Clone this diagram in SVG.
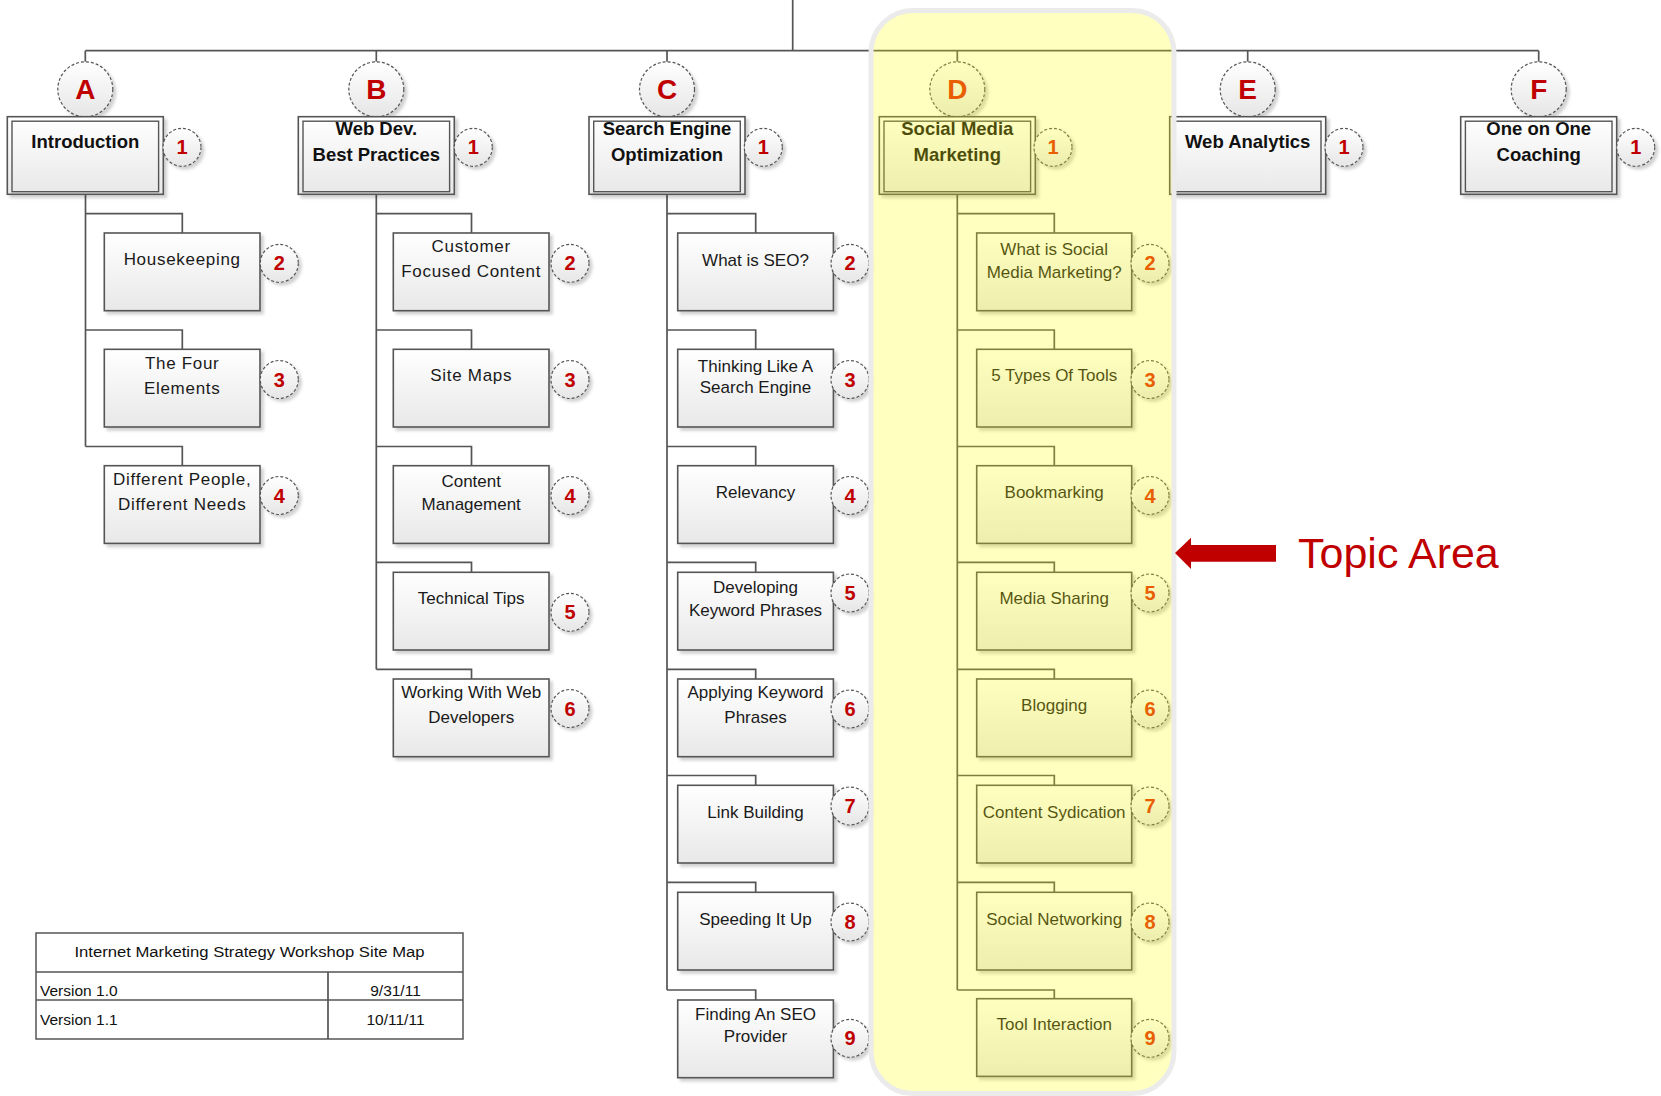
<svg xmlns="http://www.w3.org/2000/svg" width="1661" height="1096" viewBox="0 0 1661 1096">
<defs>
<linearGradient id="gb" x1="0" y1="0" x2="0" y2="1"><stop offset="0" stop-color="#ffffff"/><stop offset="1" stop-color="#e8e8e8"/></linearGradient>
<linearGradient id="gc" x1="0" y1="0" x2="0" y2="1"><stop offset="0" stop-color="#ffffff"/><stop offset="1" stop-color="#e6e6e6"/></linearGradient>
<filter id="sh" x="-10%" y="-10%" width="130%" height="130%"><feDropShadow dx="3" dy="3" stdDeviation="1.5" flood-color="#000" flood-opacity="0.18"/></filter>
<style>
.ln{fill:none;stroke:#555;stroke-width:1.7}
.bx{fill:url(#gb);stroke:#555;stroke-width:1.6;filter:url(#sh)}
.hi{fill:none;stroke:#555;stroke-width:1.4}
.cc{fill:url(#gc);stroke:#555;stroke-width:1.2;stroke-dasharray:3 2;filter:url(#sh)}
.lt{font-family:"Liberation Sans",Arial,sans-serif;font-weight:bold;font-size:28px;fill:#C00000;text-anchor:middle}
.bn{font-family:"Liberation Sans",Arial,sans-serif;font-weight:bold;font-size:20px;fill:#C00000;text-anchor:middle}
.ht{font-family:"Liberation Sans",Arial,sans-serif;font-weight:bold;font-size:18.5px;fill:#111;text-anchor:middle}
.ct{font-family:"Liberation Sans",Arial,sans-serif;font-size:17px;fill:#1a1a1a;text-anchor:middle}
.cw{letter-spacing:0.7px}
.tb{font-family:"Liberation Sans",Arial,sans-serif;font-size:15.5px;fill:#111}
.dk .lt,.dk .bn{fill:#E02800}
</style>
</defs>
<rect width="1661" height="1096" fill="#ffffff"/>

<g id="connectors">
<path class="ln" d="M792.7 0V50.7M85.3 50.7H1538.7"/>
<path class="ln" d="M85.3 50.7V61.8M376.3 50.7V61.8M667 50.7V61.8M957.3 50.7V61.8M1247.7 50.7V61.8M1538.7 50.7V61.8"/>
<path class="ln" d="M85.5 194.3V446.5M85.5 213.7H182.3V233M85.5 330H182.3V349.3M85.5 446.5H182.3V465.7"/>
<path class="ln" d="M376.3 194.3V669.3M376.3 213.7H471.5V233M376.3 330H471.5V349.3M376.3 446.5H471.5V465.7M376.3 562.3H471.5V572.3M376.3 669.3H471.5V679"/>
<path class="ln" d="M667 194.3V990M667 213.7H755.7V233M667 330H755.7V349.3M667 446.5H755.7V465.7M667 562.3H755.7V572.3M667 669.3H755.7V679M667 775.5H755.7V785.3M667 882.3H755.7V892.3M667 990H755.7V1000"/>
<path class="ln" d="M957.3 194.3V990M957.3 213.7H1054.3V233M957.3 330H1054.3V349.3M957.3 446.5H1054.3V465.7M957.3 562.3H1054.3V572.3M957.3 669.3H1054.3V679M957.3 775.5H1054.3V785.3M957.3 882.3H1054.3V892.3M957.3 990H1054.3V1000"/>
</g>

<!-- Header nodes -->
<g id="node-A">
<circle class="cc" cx="85.3" cy="89.3" r="27.5"/><text class="lt" x="85.3" y="99.3">A</text>
<rect class="bx" x="7.3" y="116.7" width="156" height="77.6"/><rect class="hi" x="12" y="121.2" width="146.6" height="70.5"/>
<text class="ht" x="85.3" y="148.3">Introduction</text>
<circle class="cc" cx="182" cy="147.3" r="19"/><text class="bn" x="182" y="154.3">1</text>
</g>
<g id="node-B">
<circle class="cc" cx="376.3" cy="89.3" r="27.5"/><text class="lt" x="376.3" y="99.3">B</text>
<rect class="bx" x="298.3" y="116.7" width="156" height="77.6"/><rect class="hi" x="303" y="121.2" width="146.6" height="70.5"/>
<text class="ht" x="376.3" y="135">Web Dev.</text><text class="ht" x="376.3" y="161">Best Practices</text>
<circle class="cc" cx="473.3" cy="147.3" r="19"/><text class="bn" x="473.3" y="154.3">1</text>
</g>
<g id="node-C">
<circle class="cc" cx="667" cy="89.3" r="27.5"/><text class="lt" x="667" y="99.3">C</text>
<rect class="bx" x="589" y="116.7" width="156" height="77.6"/><rect class="hi" x="593.7" y="121.2" width="146.6" height="70.5"/>
<text class="ht" x="667" y="135">Search Engine</text><text class="ht" x="667" y="161">Optimization</text>
<circle class="cc" cx="763.3" cy="147.3" r="19"/><text class="bn" x="763.3" y="154.3">1</text>
</g>
<g id="node-D" class="dk">
<circle class="cc" cx="957.3" cy="89.3" r="27.5"/><text class="lt" x="957.3" y="99.3">D</text>
<rect class="bx" x="879.3" y="116.7" width="156" height="77.6"/><rect class="hi" x="884" y="121.2" width="146.6" height="70.5"/>
<text class="ht" x="957.3" y="135">Social Media</text><text class="ht" x="957.3" y="161">Marketing</text>
<circle class="cc" cx="1053" cy="147.3" r="19"/><text class="bn" x="1053" y="154.3">1</text>
</g>
<g id="node-E">
<circle class="cc" cx="1247.7" cy="89.3" r="27.5"/><text class="lt" x="1247.7" y="99.3">E</text>
<rect class="bx" x="1169.7" y="116.7" width="156" height="77.6"/><rect class="hi" x="1174.4" y="121.2" width="146.6" height="70.5"/>
<text class="ht" x="1247.7" y="148.3">Web Analytics</text>
<circle class="cc" cx="1344" cy="147.3" r="19"/><text class="bn" x="1344" y="154.3">1</text>
</g>
<g id="node-F">
<circle class="cc" cx="1538.7" cy="89.3" r="27.5"/><text class="lt" x="1538.7" y="99.3">F</text>
<rect class="bx" x="1460.7" y="116.7" width="156" height="77.6"/><rect class="hi" x="1465.4" y="121.2" width="146.6" height="70.5"/>
<text class="ht" x="1538.7" y="135">One on One</text><text class="ht" x="1538.7" y="161">Coaching</text>
<circle class="cc" cx="1635.7" cy="147.3" r="19"/><text class="bn" x="1635.7" y="154.3">1</text>
</g>

<!-- Column A children -->
<g id="node-A2"><rect class="bx" x="104.3" y="233" width="155.7" height="77.7"/><text class="ct cw" x="182.2" y="265">Housekeeping</text><circle class="cc" cx="279.3" cy="263.3" r="19"/><text class="bn" x="279.3" y="270.3">2</text></g>
<g id="node-A3"><rect class="bx" x="104.3" y="349.3" width="155.7" height="77.7"/><text class="ct cw" x="182.2" y="369.3">The Four</text><text class="ct cw" x="182.2" y="393.8">Elements</text><circle class="cc" cx="279.3" cy="379.5" r="19"/><text class="bn" x="279.3" y="386.5">3</text></g>
<g id="node-A4"><rect class="bx" x="104.3" y="465.7" width="155.7" height="77.7"/><text class="ct cw" x="182.2" y="485.3">Different People,</text><text class="ct cw" x="182.2" y="510">Different Needs</text><circle class="cc" cx="279.3" cy="495.5" r="19"/><text class="bn" x="279.3" y="502.5">4</text></g>

<!-- Column B children -->
<g id="node-B2"><rect class="bx" x="393.3" y="233" width="155.7" height="77.7"/><text class="ct cw" x="471.2" y="251.7">Customer</text><text class="ct cw" x="471.2" y="277">Focused Content</text><circle class="cc" cx="570" cy="263.3" r="19"/><text class="bn" x="570" y="270.3">2</text></g>
<g id="node-B3"><rect class="bx" x="393.3" y="349.3" width="155.7" height="77.7"/><text class="ct cw" x="471.2" y="380.7">Site Maps</text><circle class="cc" cx="570" cy="379.5" r="19"/><text class="bn" x="570" y="386.5">3</text></g>
<g id="node-B4"><rect class="bx" x="393.3" y="465.7" width="155.7" height="77.7"/><text class="ct" x="471.2" y="486.7">Content</text><text class="ct" x="471.2" y="510">Management</text><circle class="cc" cx="570" cy="495.5" r="19"/><text class="bn" x="570" y="502.5">4</text></g>
<g id="node-B5"><rect class="bx" x="393.3" y="572.3" width="155.7" height="77.7"/><text class="ct" x="471.2" y="604">Technical Tips</text><circle class="cc" cx="570" cy="612.3" r="19"/><text class="bn" x="570" y="619.3">5</text></g>
<g id="node-B6"><rect class="bx" x="393.3" y="679" width="155.7" height="77.7"/><text class="ct" x="471.2" y="698.3">Working With Web</text><text class="ct" x="471.2" y="723.3">Developers</text><circle class="cc" cx="570" cy="708.5" r="19"/><text class="bn" x="570" y="715.5">6</text></g>

<!-- Column C children -->
<g id="node-C2"><rect class="bx" x="677.7" y="233" width="155.7" height="77.7"/><text class="ct" x="755.5" y="266">What is SEO?</text><circle class="cc" cx="850" cy="263.3" r="19"/><text class="bn" x="850" y="270.3">2</text></g>
<g id="node-C3"><rect class="bx" x="677.7" y="349.3" width="155.7" height="77.7"/><text class="ct" x="755.5" y="371.7">Thinking Like A</text><text class="ct" x="755.5" y="393.3">Search Engine</text><circle class="cc" cx="850" cy="379.5" r="19"/><text class="bn" x="850" y="386.5">3</text></g>
<g id="node-C4"><rect class="bx" x="677.7" y="465.7" width="155.7" height="77.7"/><text class="ct" x="755.5" y="498.3">Relevancy</text><circle class="cc" cx="850" cy="495.5" r="19"/><text class="bn" x="850" y="502.5">4</text></g>
<g id="node-C5"><rect class="bx" x="677.7" y="572.3" width="155.7" height="77.7"/><text class="ct" x="755.5" y="593.3">Developing</text><text class="ct" x="755.5" y="616">Keyword Phrases</text><circle class="cc" cx="850" cy="593" r="19"/><text class="bn" x="850" y="600">5</text></g>
<g id="node-C6"><rect class="bx" x="677.7" y="679" width="155.7" height="77.7"/><text class="ct" x="755.5" y="698.3">Applying Keyword</text><text class="ct" x="755.5" y="722.7">Phrases</text><circle class="cc" cx="850" cy="709" r="19"/><text class="bn" x="850" y="716">6</text></g>
<g id="node-C7"><rect class="bx" x="677.7" y="785.3" width="155.7" height="77.7"/><text class="ct" x="755.5" y="818.3">Link Building</text><circle class="cc" cx="850" cy="806" r="19"/><text class="bn" x="850" y="813">7</text></g>
<g id="node-C8"><rect class="bx" x="677.7" y="892.3" width="155.7" height="77.7"/><text class="ct" x="755.5" y="925">Speeding It Up</text><circle class="cc" cx="850" cy="922" r="19"/><text class="bn" x="850" y="929">8</text></g>
<g id="node-C9"><rect class="bx" x="677.7" y="1000" width="155.7" height="77.7"/><text class="ct" x="755.5" y="1020">Finding An SEO</text><text class="ct" x="755.5" y="1042.3">Provider</text><circle class="cc" cx="850" cy="1038.3" r="19"/><text class="bn" x="850" y="1045.3">9</text></g>

<!-- Column D children -->
<g id="node-D2" class="dk"><rect class="bx" x="976.7" y="233" width="155" height="77.7"/><text class="ct" x="1054.2" y="255">What is Social</text><text class="ct" x="1054.2" y="278">Media Marketing?</text><circle class="cc" cx="1150" cy="263.3" r="19"/><text class="bn" x="1150" y="270.3">2</text></g>
<g id="node-D3" class="dk"><rect class="bx" x="976.7" y="349.3" width="155" height="77.7"/><text class="ct" x="1054.2" y="381.3">5 Types Of Tools</text><circle class="cc" cx="1150" cy="379.5" r="19"/><text class="bn" x="1150" y="386.5">3</text></g>
<g id="node-D4" class="dk"><rect class="bx" x="976.7" y="465.7" width="155" height="77.7"/><text class="ct" x="1054.2" y="498">Bookmarking</text><circle class="cc" cx="1150" cy="495.5" r="19"/><text class="bn" x="1150" y="502.5">4</text></g>
<g id="node-D5" class="dk"><rect class="bx" x="976.7" y="572.3" width="155" height="77.7"/><text class="ct" x="1054.2" y="603.5">Media Sharing</text><circle class="cc" cx="1150" cy="593" r="19"/><text class="bn" x="1150" y="600">5</text></g>
<g id="node-D6" class="dk"><rect class="bx" x="976.7" y="679" width="155" height="77.7"/><text class="ct" x="1054.2" y="711">Blogging</text><circle class="cc" cx="1150" cy="709" r="19"/><text class="bn" x="1150" y="716">6</text></g>
<g id="node-D7" class="dk"><rect class="bx" x="976.7" y="785.3" width="155" height="77.7"/><text class="ct" x="1054.2" y="818.3">Content Sydication</text><circle class="cc" cx="1150" cy="806" r="19"/><text class="bn" x="1150" y="813">7</text></g>
<g id="node-D8" class="dk"><rect class="bx" x="976.7" y="892.3" width="155" height="77.7"/><text class="ct" x="1054.2" y="925">Social Networking</text><circle class="cc" cx="1150" cy="922" r="19"/><text class="bn" x="1150" y="929">8</text></g>
<g id="node-D9" class="dk"><rect class="bx" x="976.7" y="998.7" width="155" height="77.7"/><text class="ct" x="1054.2" y="1030">Tool Interaction</text><circle class="cc" cx="1150" cy="1038.3" r="19"/><text class="bn" x="1150" y="1045.3">9</text></g>

<!-- Version table -->
<g id="version-table">
<rect x="36" y="933" width="427" height="106" fill="#fff" stroke="#555" stroke-width="1.5"/>
<path class="ln" d="M36 972H463M36 1000H463M328 972V1039" stroke-width="1.5"/>
<text class="tb" x="249.5" y="957" text-anchor="middle" textLength="350" lengthAdjust="spacingAndGlyphs">Internet Marketing Strategy Workshop Site Map</text>
<text class="tb" x="40" y="995.7">Version 1.0</text>
<text class="tb" x="395.5" y="995.7" text-anchor="middle">9/31/11</text>
<text class="tb" x="40" y="1025">Version 1.1</text>
<text class="tb" x="395.5" y="1025" text-anchor="middle">10/11/11</text>
</g>

<!-- Topic area highlight -->
<g id="topic-area">
<rect x="871" y="10.5" width="303" height="1083" rx="42" fill="#ffff00" fill-opacity="0.25" stroke="#ebebeb" stroke-width="5"/>
</g>
<g id="topic-label">
<polygon points="1175,553 1191,537.7 1191,545 1276,545 1276,561.7 1191,561.7 1191,569" fill="#C00000"/>
<text x="1298" y="567.7" font-family="'Liberation Sans',Arial,sans-serif" font-size="43" fill="#C00000">Topic Area</text>
</g>
</svg>
